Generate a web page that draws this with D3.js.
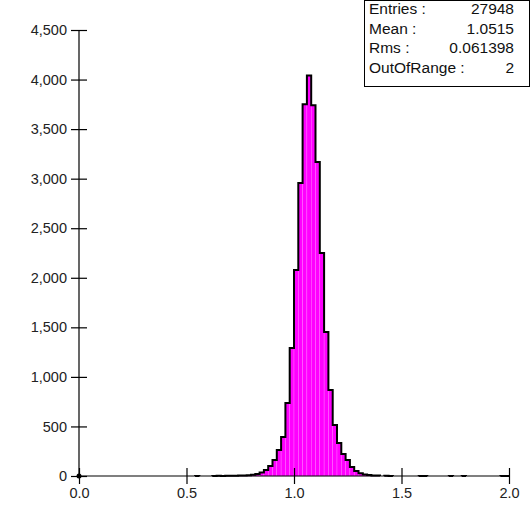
<!DOCTYPE html>
<html>
<head>
<meta charset="utf-8">
<script src="https://cdn.jsdelivr.net/npm/d3@7"></script>
<style>
  body { margin: 0; background: #fff; }
  text { font-family: "Liberation Sans", Arial, sans-serif; }
</style>
</head>
<body>
<div class="graph"></div>
<script>
// histogram bins: 100 bins of width 0.02 from 0 to 2
const binStart = 0;
const binWidth = 0.02;
const counts = [
  0, 0, 0, 0, 0, 0, 0, 0, 0, 0,
  0, 0, 0, 0, 0, 0, 0, 0, 0, 0,
  0, 0, 0, 0, 0, 0, 0, 1, 0, 0,
  0, 1, 2, 1, 2, 3, 2, 4, 5, 8,
  12, 20, 35, 60, 100, 161, 262, 393, 737, 1291,
  2078, 2956, 3750, 4040, 3740, 3168, 2250, 1453, 868, 515,
  333, 222, 161, 90, 50, 28, 15, 10, 6, 4,
  0, 2, 1, 0, 0, 0, 0, 0, 0, 1,
  1, 0, 0, 0, 0, 0, 1, 0, 0, 1,
  0, 0, 0, 0, 0, 0, 0, 0, 1, 1
];
const xTicks = [0, 0.5, 1.0, 1.5, 2.0];
const yTicks = [0, 500, 1000, 1500, 2000, 2500, 3000, 3500, 4000, 4500];
const statLabels = ["Entries :", "Mean :", "Rms :", "OutOfRange :"];
const statValues = ["27948", "1.0515", "0.061398", "2"];

const margin = { top: 30, right: 21, bottom: 36, left: 79 },
    width = 530 - margin.left - margin.right,
    height = 512 - margin.top - margin.bottom;

const bins = counts.map((c, i) => ({ x0: binStart + i * binWidth, x1: binStart + (i + 1) * binWidth, c: c }));

const svg = d3.select(".graph")
    .append("svg")
    .attr("width", 530)
    .attr("height", 512);
const g = svg.append("g")
    .attr("transform", "translate(" + margin.left + "," + margin.top + ")");

const xscale = d3.scaleLinear().domain([0, 2]).range([0, width]);
const yscale = d3.scaleLinear().domain([0, 4500]).range([height, 0]);

// bars
g.selectAll("rect.bar")
    .data(bins.filter(d => d.c > 0))
    .enter()
    .append("rect")
    .attr("class", "bar")
    .attr("x", d => xscale(d.x0))
    .attr("y", d => yscale(d.c))
    .attr("width", d => xscale(d.x1) - xscale(d.x0))
    .attr("height", d => yscale(0) - yscale(d.c))
    .attr("fill", "#ff00ff")
    .attr("stroke", "#ff77ff")
    .attr("stroke-width", 0.4);

// outline, one path per run of non-empty bins
let runs = [], cur = null;
bins.forEach(d => {
    if (d.c > 0) { if (!cur) { cur = []; runs.push(cur); } cur.push(d); }
    else cur = null;
});
runs.forEach(run => {
    let p = "M" + xscale(run[0].x0) + "," + yscale(0);
    run.forEach(d => {
        p += "L" + xscale(d.x0) + "," + yscale(d.c) + "L" + xscale(d.x1) + "," + yscale(d.c);
    });
    p += "L" + xscale(run[run.length - 1].x1) + "," + yscale(0);
    g.append("path")
        .attr("d", p)
        .attr("fill", "none")
        .attr("stroke", "#000")
        .attr("stroke-width", 2);
});

// axes
const x_axis = d3.axisBottom(xscale).tickValues(xTicks).tickFormat(d3.format(".1f"))
    .tickSize(8).tickPadding(4);
const y_axis = d3.axisLeft(yscale).tickValues(yTicks).tickFormat(d3.format(","))
    .tickSize(8).tickPadding(4);
const xg = g.append("g")
    .attr("transform", "translate(0," + height + ")")
    .call(x_axis);
const yg = g.append("g").call(y_axis);
[xg, yg].forEach(a => {
    a.select(".domain").attr("stroke", "#000").attr("stroke-width", 1.2);
    a.selectAll(".tick line").attr("stroke", "#000").attr("stroke-width", 1.2);
    a.selectAll(".tick text").attr("font-size", 14.5).attr("fill", "#222")
        .style("font-family", "'Liberation Sans', Arial, sans-serif");
});
xg.selectAll(".tick line").attr("y1", -8).attr("y2", 8);
yg.selectAll(".tick line").attr("x1", -8).attr("x2", 8);
xg.select(".domain").attr("d", "M0,0H" + width);
yg.select(".domain").attr("d", "M0,0V" + height);

g.append("circle")
    .attr("cx", xscale(0))
    .attr("cy", yscale(0))
    .attr("r", 2.5)
    .attr("fill", "#000");

// statistics box
const box = svg.append("g").attr("transform", "translate(364,0)");
box.append("rect")
    .attr("x", 0.5).attr("y", 0.5)
    .attr("width", 165).attr("height", 86)
    .attr("fill", "#fff").attr("stroke", "#000").attr("stroke-width", 1);
statLabels.forEach((s, i) => {
    box.append("text")
        .attr("x", 5).attr("y", 14 + i * 19.5)
        .attr("font-size", 15.5).attr("fill", "#111")
        .text(s);
    box.append("text")
        .attr("x", 150).attr("y", 14 + i * 19.5)
        .attr("text-anchor", "end")
        .attr("font-size", 15.5).attr("fill", "#111")
        .text(statValues[i]);
});
</script>
</body>
</html>
